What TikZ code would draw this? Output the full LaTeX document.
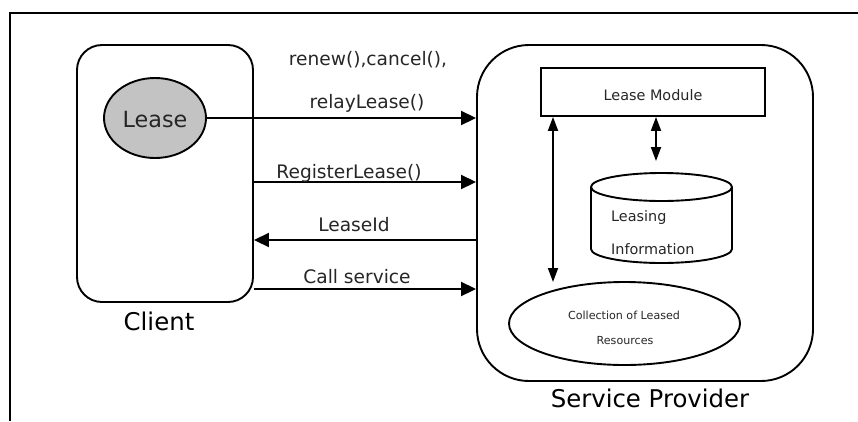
\documentclass[tikz,border=0pt]{standalone}
\usepackage{fontspec}
\setmainfont{DejaVu Sans}
\usetikzlibrary{arrows.meta,shapes.geometric}
\definecolor{ink}{HTML}{262626}
\definecolor{leasegray}{HTML}{C3C3C3}
\begin{document}
\begin{tikzpicture}[x=1pt,y=-1pt,
  stroke/.style={line width=1.9pt, draw=black},
  hhead/.style={-{Triangle[length=15pt,width=14pt]}},
  vboth/.style={{Triangle[length=14pt,width=10pt]}-{Triangle[length=14pt,width=10pt]}},
  msg/.style={font=\fontsize{18.6}{22}\selectfont, text=ink, inner sep=0pt, anchor=base},
  tiny/.style={font=\fontsize{11.1}{14}\selectfont, text=ink, inner sep=0pt, anchor=base},
  small/.style={font=\fontsize{14.4}{17}\selectfont, text=ink, inner sep=0pt},
  caption/.style={font=\fontsize{24.4}{29}\selectfont, text=black, inner sep=0pt, anchor=base},
]
\useasboundingbox (0,0) rectangle (858,421);

% outer frame (top and left edges)
\draw[line width=1.8pt] (10,421) -- (10,13) -- (858,13);

% client side
\node[stroke, rounded corners=25pt, minimum width=176pt, minimum height=257pt, inner sep=0pt] (client) at (165,173.5) {};
\node[stroke, ellipse, fill=leasegray, minimum width=102pt, minimum height=80pt, inner sep=0pt] (lease) at (155,118) {};
\node[font=\fontsize{22.3}{26}\selectfont, text=ink, inner sep=0pt, anchor=base] (leasetxt) at (155,127) {Lease};
\node[caption] (clientlbl) at (159,330) {Client};

% service provider side
\node[stroke, rounded corners=52pt, minimum width=336pt, minimum height=336pt, inner sep=0pt] (sp) at (645,213) {};
\node[caption] (splbl) at (650,407) {Service Provider};

\node[stroke, minimum width=224pt, minimum height=48pt, inner sep=0pt] (module) at (653,92) {};
\node[small, anchor=base] (moduletxt) at (653,100) {Lease Module};

% leasing information store
\coordinate (cyltop) at (661.5,187);
\coordinate (cylbot) at (661.5,249);
\draw[stroke] (591,187) -- (591,249)
  arc[start angle=180, end angle=360, x radius=70.5pt, y radius=14pt] -- (732,187);
\draw[stroke] (cyltop) ellipse [x radius=70.5pt, y radius=14pt];
\node[small, anchor=base west] (infoA) at (611,221) {Leasing};
\node[small, anchor=base west] (infoB) at (611,254) {Information};
\coordinate (cylarrow) at (656,161);

% leased resources
\node[stroke, ellipse, minimum width=231pt, minimum height=83pt, inner sep=0pt] (coll) at (624.5,323.5) {};
\node[tiny] (collA) at (624,319) {Collection of Leased};
\node[tiny] (collB) at (625,344) {Resources};
\coordinate (collarrow) at (553,282);

% internal links
\draw[stroke, vboth] (module.south -| cylarrow) -- (cylarrow);
\draw[stroke, vboth] (module.south -| collarrow) -- (collarrow);

% messages between client and provider
\draw[stroke, hhead] (lease.east) -- (lease.east -| sp.west);
\node[msg] (renew) at (368,65) {renew(),cancel(),};
\node[msg] (relay) at (367,108) {relayLease()};

\draw[stroke, hhead] (client.east |- 0,182) -- (sp.west |- 0,182);
\node[msg] (register) at (349,178) {RegisterLease()};

\draw[stroke, hhead] (sp.west |- 0,240) -- (client.east |- 0,240);
\node[msg] (leaseid) at (354,231) {LeaseId};

\draw[stroke, hhead] (client.east |- 0,289) -- (sp.west |- 0,289);
\node[msg] (call) at (357,283) {Call service};
\end{tikzpicture}
\end{document}
